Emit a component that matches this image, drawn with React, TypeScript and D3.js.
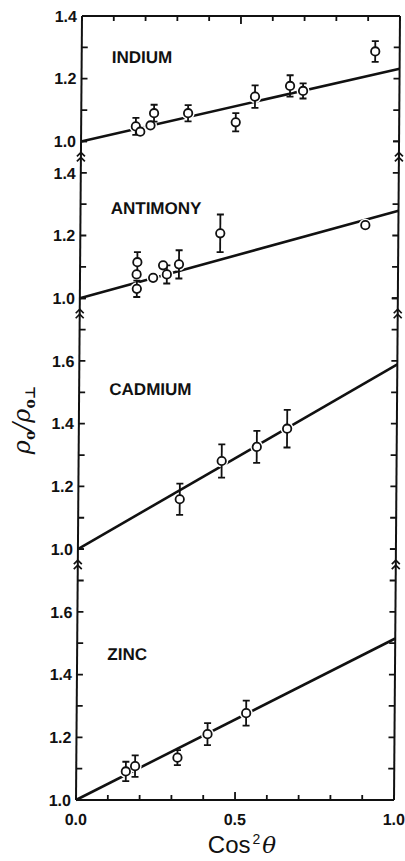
import React from "react";
import * as d3 from "d3";

// panels, top to bottom
const METALS = ["INDIUM", "ANTIMONY", "CADMIUM", "ZINC"];
const Y_MAX = [1.4, 1.5, 1.8, 1.8];
const Y_TICK_LABELS = [
  [1.0, 1.2, 1.4],
  [1.0, 1.2, 1.4],
  [1.0, 1.2, 1.4, 1.6],
  [1.0, 1.2, 1.4, 1.6],
];
// fitted straight line: value at cos²θ = 0 and at cos²θ = 1
const FIT_START = [1.0, 1.0, 1.0, 1.0];
const FIT_END = [1.232, 1.279, 1.589, 1.515];

const INDIUM_X = [0.172, 0.186, 0.218, 0.229, 0.336, 0.486, 0.546, 0.656, 0.697, 0.923];
const INDIUM_Y = [1.048, 1.031, 1.051, 1.09, 1.09, 1.061, 1.143, 1.177, 1.161, 1.287];
const INDIUM_ERR = [0.027, 0, 0, 0.027, 0.026, 0.029, 0.036, 0.034, 0.024, 0.033];

const ANTIMONY_X = [0.18, 0.178, 0.179, 0.23, 0.261, 0.273, 0.311, 0.44, 0.896];
const ANTIMONY_Y = [1.115, 1.076, 1.03, 1.065, 1.105, 1.076, 1.108, 1.207, 1.233];
const ANTIMONY_ERR = [0.032, 0, 0.026, 0, 0, 0.029, 0.045, 0.06, 0];

const CADMIUM_X = [0.319, 0.45, 0.56, 0.655];
const CADMIUM_Y = [1.159, 1.281, 1.326, 1.384];
const CADMIUM_ERR = [0.05, 0.053, 0.051, 0.06];

const ZINC_X = [0.156, 0.185, 0.318, 0.412, 0.533];
const ZINC_Y = [1.091, 1.108, 1.135, 1.21, 1.277];
const ZINC_ERR = [0.031, 0.034, 0.024, 0.035, 0.04];

const X_TICK_LABELS = [0.0, 0.5, 1.0];

const SERIES = [
  { x: INDIUM_X, y: INDIUM_Y, err: INDIUM_ERR },
  { x: ANTIMONY_X, y: ANTIMONY_Y, err: ANTIMONY_ERR },
  { x: CADMIUM_X, y: CADMIUM_Y, err: CADMIUM_ERR },
  { x: ZINC_X, y: ZINC_Y, err: ZINC_ERR },
];

const W = 405;
const H = 861;
const left = 82;
const top = 16;
const plotW = 318;
const plotH = 784;
// the scanned original leans a little to the left towards the bottom
const lean = (Math.atan(-6 / plotH) * 180) / Math.PI;

const ink = "#111";
const font = "'Liberation Sans', Arial, sans-serif";

export default function App() {
  const x = d3.scaleLinear().domain([0, 1]).range([0, plotW]);

  const span = d3.sum(Y_MAX, (m) => m - 1);
  const perUnit = plotH / span;
  let offset = 0;
  const panels = METALS.map((name, i) => {
    const h = (Y_MAX[i] - 1) * perUnit;
    const y = d3.scaleLinear().domain([1, Y_MAX[i]]).range([offset + h, offset]);
    offset += h;
    return { name, y, i };
  });

  // where the panel names sit, in data units
  const labelAt = [1.25, 1.27, 1.49, 1.445];

  const xTicks = d3.range(0, 11).map((d) => d / 10);
  const line = d3
    .line<[number, number]>()
    .x((d) => x(d[0]))
    .y((d) => d[1]);

  const chevrons = (cx: number, cy: number) => (
    <path
      d={`M${cx - 4},${cy + 4}L${cx},${cy}L${cx + 4},${cy + 4}M${cx - 4},${cy + 9}L${cx},${cy + 5}L${cx + 4},${cy + 9}`}
      fill="none"
      stroke={ink}
      strokeWidth={1.7}
    />
  );

  return (
    <svg
      width={W}
      height={H}
      style={{ position: "absolute", left: 0, top: 0, background: "#fff" }}
    >
      <g transform={`translate(${left},${top}) skewX(${lean})`}>
        {/* frame: left/right axes, top and bottom */}
        <line x1={0} x2={0} y1={0} y2={plotH} stroke={ink} strokeWidth={2} />
        <line x1={plotW} x2={plotW} y1={0} y2={plotH} stroke={ink} strokeWidth={2} />
        <line x1={0} x2={plotW} y1={0} y2={0} stroke={ink} strokeWidth={2} />
        <line x1={0} x2={plotW} y1={plotH} y2={plotH} stroke={ink} strokeWidth={2} />

        {xTicks.map((t) => {
          const len = t === 0.5 ? 8 : 5;
          return (
            <g key={t}>
              <line x1={x(t)} x2={x(t)} y1={0} y2={len} stroke={ink} strokeWidth={1.8} />
              <line x1={x(t)} x2={x(t)} y1={plotH} y2={plotH - len} stroke={ink} strokeWidth={1.8} />
            </g>
          );
        })}
        {X_TICK_LABELS.map((t) => (
          <text
            key={t}
            x={x(t)}
            y={plotH + 25}
            textAnchor="middle"
            fontFamily={font}
            fontWeight="bold"
            fontSize={16}
            fill={ink}
          >
            {t.toFixed(1)}
          </text>
        ))}

        {panels.map(({ name, y, i }) => {
          const s = SERIES[i];
          const ticks = d3.range(10, Math.round(Y_MAX[i] * 10) + 1).map((d) => d / 10);
          const fit = line([
            [0, y(FIT_START[i])],
            [1, y(FIT_END[i])],
          ]);
          return (
            <g key={name}>
              {ticks.map((t) => (
                <g key={t}>
                  <line x1={0} x2={6} y1={y(t)} y2={y(t)} stroke={ink} strokeWidth={1.8} />
                  <line x1={plotW} x2={plotW - 6} y1={y(t)} y2={y(t)} stroke={ink} strokeWidth={1.8} />
                </g>
              ))}
              {Y_TICK_LABELS[i].map((t) => (
                <text
                  key={t}
                  x={-5}
                  y={y(t)}
                  dy="0.36em"
                  textAnchor="end"
                  fontFamily={font}
                  fontWeight="bold"
                  fontSize={16}
                  fill={ink}
                >
                  {t.toFixed(1)}
                </text>
              ))}
              {i > 0 && (
                <g>
                  {chevrons(0, y(Y_MAX[i]) + 11)}
                  {chevrons(plotW, y(Y_MAX[i]) + 11)}
                </g>
              )}
              <text
                x={x(0.095)}
                y={y(labelAt[i])}
                fontFamily={font}
                fontWeight="bold"
                fontSize={17}
                fill={ink}
              >
                {name}
              </text>

              <path d={fit ?? ""} fill="none" stroke={ink} strokeWidth={2.6} />
              {s.x.map((d, j) => (
                <circle key={`m${j}`} cx={x(d)} cy={y(s.y[j])} r={6.5} fill="#fff" />
              ))}
              {s.x.map((d, j) =>
                s.err[j] > 0 ? (
                  <g key={`e${j}`} stroke={ink} strokeWidth={1.8}>
                    <line x1={x(d)} x2={x(d)} y1={y(s.y[j] - s.err[j])} y2={y(s.y[j] + s.err[j])} />
                    <line x1={x(d) - 3.5} x2={x(d) + 3.5} y1={y(s.y[j] - s.err[j])} y2={y(s.y[j] - s.err[j])} />
                    <line x1={x(d) - 3.5} x2={x(d) + 3.5} y1={y(s.y[j] + s.err[j])} y2={y(s.y[j] + s.err[j])} />
                  </g>
                ) : null
              )}
              {s.x.map((d, j) => (
                <circle
                  key={`p${j}`}
                  cx={x(d)}
                  cy={y(s.y[j])}
                  r={4.2}
                  fill="#fff"
                  stroke={ink}
                  strokeWidth={1.8}
                />
              ))}
            </g>
          );
        })}
      </g>

      <text
        transform="translate(30,420) rotate(-90)"
        textAnchor="middle"
        fontFamily="'DejaVu Serif', serif"
        fontStyle="italic"
        fontSize={24}
        fill={ink}
      >
        ρ
        <tspan fontSize={14} dy={5} fontStyle="normal" fontWeight="bold">o</tspan>
        <tspan dy={-5}>/ρ</tspan>
        <tspan fontSize={14} dy={5} fontStyle="normal" fontWeight="bold">o⊥</tspan>
      </text>

      <text
        x={242}
        y={853}
        textAnchor="middle"
        fontFamily={font}
        fontSize={24}
        fill={ink}
      >
        Cos
        <tspan fontSize={14} dy={-9} dx={2}>2</tspan>
        <tspan dy={9} dx={2} fontFamily="'DejaVu Serif', serif" fontStyle="italic" fontSize={23}>θ</tspan>
      </text>
    </svg>
  );
}
